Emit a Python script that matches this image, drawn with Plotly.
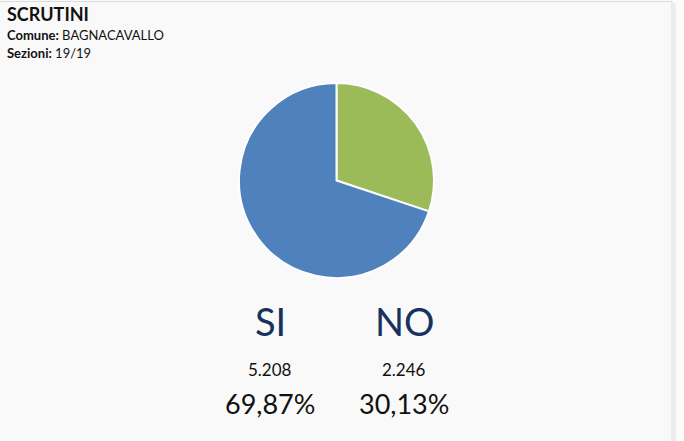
import plotly.graph_objects as go

# Data
labels = ["NO", "SI"]
votes = [2246, 5208]
colors = ["#9BBB59", "#4F81BD"]
title = "SCRUTINI"
comune = "BAGNACAVALLO"
sezioni = "19/19"

total = sum(votes)

def fmt_int(n):
    return f"{n:,}".replace(",", ".")

def fmt_pct(v):
    return f"{v / total * 100:.2f}".replace(".", ",") + "%"

W, H = 684, 441
fig = go.Figure()
fig.add_trace(go.Pie(
    labels=labels, values=votes, sort=False, direction="clockwise", rotation=0,
    marker=dict(colors=colors, line=dict(color="white", width=2)),
    textinfo="none", hoverinfo="label+value+percent", showlegend=False,
    domain=dict(x=[239 / W, 434 / W], y=[(H - 278) / H, (H - 83) / H]),
))

font = "Lato"
ann = []
ann.append(dict(x=5 / W, y=1 - 14 / H, text=f"<b>{title}</b>", showarrow=False,
                xanchor="left", yanchor="middle", font=dict(family=font, size=18, color="#111")))
ann.append(dict(x=5 / W, y=1 - 35 / H, text=f"<b>Comune:</b> {comune}", showarrow=False,
                xanchor="left", yanchor="middle", font=dict(family=font, size=13, color="#111")))
ann.append(dict(x=5 / W, y=1 - 53 / H, text=f"<b>Sezioni:</b> {sezioni}", showarrow=False,
                xanchor="left", yanchor="middle", font=dict(family=font, size=13, color="#111")))

centers = {"SI": 270, "NO": 404}
for lab, v in zip(labels, votes):
    cx = centers[lab] / W
    ann.append(dict(x=cx, y=1 - 321 / H, text=lab, showarrow=False, xanchor="center", yanchor="middle",
                    font=dict(family=font, size=38, color="#17325E")))
    ann.append(dict(x=cx, y=1 - 369 / H, text=fmt_int(v), showarrow=False, xanchor="center", yanchor="middle",
                    font=dict(family=font, size=17, color="#111")))
    ann.append(dict(x=cx, y=1 - 403 / H, text=fmt_pct(v), showarrow=False, xanchor="center", yanchor="middle",
                    font=dict(family=font, size=27, color="#111")))

shapes = [
    dict(type="rect", xref="paper", yref="paper", x0=672 / W, x1=1, y0=0, y1=1,
         fillcolor="#fbfbfb", line=dict(width=0), layer="below"),
    dict(type="rect", xref="paper", yref="paper", x0=673 / W, x1=676 / W, y0=0, y1=1 - 3 / H,
         fillcolor="#eeeeee", line=dict(width=0), layer="below"),
    dict(type="line", xref="paper", yref="paper", x0=0, x1=672 / W, y0=1 - 1.5 / H, y1=1 - 1.5 / H,
         line=dict(color="#dddddd", width=1)),
    dict(type="line", xref="paper", yref="paper", x0=672 / W, x1=672 / W, y0=0, y1=1 - 1.5 / H,
         line=dict(color="#dddddd", width=1)),
]

fig.update_layout(
    width=W, height=H, margin=dict(l=0, r=0, t=0, b=0),
    paper_bgcolor="#f9f9f9", plot_bgcolor="#f9f9f9",
    annotations=ann, shapes=shapes,
)
fig.write_html("out.html", config={"displayModeBar": False},
               post_script="document.body.style.margin='0';document.body.style.overflow='hidden';")
